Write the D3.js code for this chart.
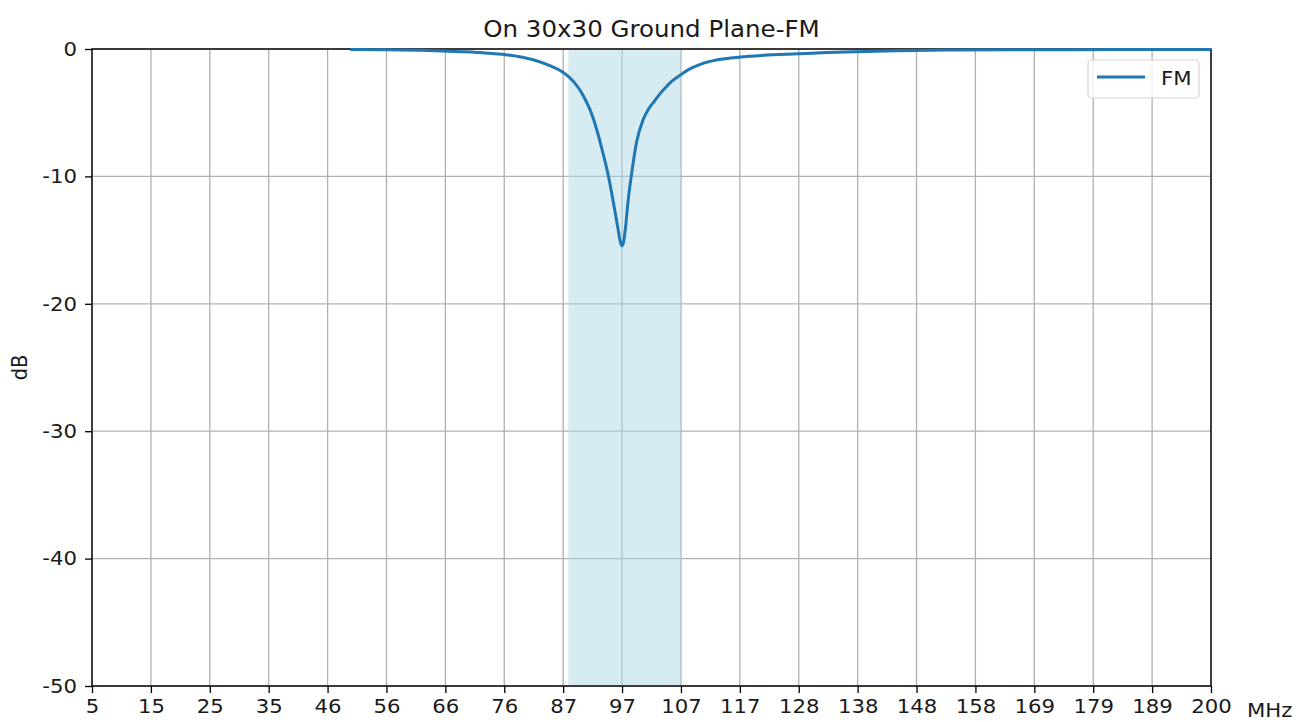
<!DOCTYPE html>
<html>
<head>
<meta charset="utf-8">
<script src="https://cdn.jsdelivr.net/npm/d3@7"></script>
<style>
  html, body { margin: 0; padding: 0; background: #fff; }
  svg { display: block; }
  text { font-family: "DejaVu Sans", sans-serif; fill: #1a1a1a; }
</style>
</head>
<body>
<svg id="chart" width="1307" height="722"></svg>
<script>
// ---- data ----
const title = "On 30x30 Ground Plane-FM";
const seriesName = "FM";
const freqMHz = [50, 56, 62, 66, 70, 74, 77, 80, 83, 85, 87, 88, 89, 90, 91, 92, 93, 94, 95, 96, 96.7, 97.05, 97.35, 97.65, 98.0, 98.4, 99, 99.9, 101, 102, 103, 104, 105.2, 106, 107.5, 109, 111, 114, 118, 122, 128, 133, 138, 143, 148, 155, 165, 175, 185, 200];
const gainDb  = [-0.03, -0.06, -0.1, -0.15, -0.22, -0.33, -0.45, -0.65, -1.0, -1.35, -1.8, -2.15, -2.6, -3.2, -4.0, -5.0, -6.4, -8.1, -10.0, -12.4, -14.2, -15.1, -15.45, -15.1, -13.9, -12.0, -9.9, -7.3, -5.6, -4.7, -4.1, -3.5, -2.9, -2.55, -2.05, -1.6, -1.2, -0.85, -0.63, -0.5, -0.38, -0.28, -0.22, -0.16, -0.12, -0.08, -0.06, -0.05, -0.04, -0.03];
const xTickValues = [5, 15.263, 25.526, 35.789, 46.053, 56.316, 66.579, 76.842, 87.105, 97.368, 107.632, 117.895, 128.158, 138.421, 148.684, 158.947, 169.211, 179.474, 189.737, 200];
const xTickLabels = ["5","15","25","35","46","56","66","76","87","97","107","117","128","138","148","158","169","179","189","200"];
const yTickValues = [0, -10, -20, -30, -40, -50];
const bandRange = [88, 107.632];
const xDomain = [5, 200];
const yDomain = [-50, 0];

// ---- layout ----
const SX = 1.09; // horizontal glyph stretch of the reference
const svg = d3.select("#chart");
const L = 92, R = 1211, T = 49, B = 686;
const x = d3.scaleLinear().domain(xDomain).range([L, R]);
const y = d3.scaleLinear().domain(yDomain).range([B, T]);

function label(px, py, str, size, anchor, rot) {
  const g = svg.append("g").attr("transform", `translate(${px},${py})` + (rot ? ` rotate(${rot})` : "") + ` scale(${rot ? 1 : SX},${rot ? SX : 1})`);
  g.append("text").attr("x", 0).attr("y", 0).attr("text-anchor", anchor || "start")
    .style("font-size", size + "px").text(str);
  return g;
}

// grid
const grid = svg.append("g");
grid.selectAll("line.vx").data(xTickValues).enter().append("line")
  .attr("x1", d => x(d)).attr("x2", d => x(d)).attr("y1", T).attr("y2", B)
  .attr("stroke", "#b0b0b0").attr("stroke-width", 1.3);
grid.selectAll("line.hy").data(yTickValues).enter().append("line")
  .attr("x1", L).attr("x2", R).attr("y1", d => y(d)).attr("y2", d => y(d))
  .attr("stroke", "#b0b0b0").attr("stroke-width", 1.3);

// band shading
svg.append("rect")
  .attr("x", x(bandRange[0])).attr("y", T)
  .attr("width", x(bandRange[1]) - x(bandRange[0])).attr("height", B - T)
  .attr("fill", "#add8e6").attr("fill-opacity", 0.5);

// axes
const xAxis = d3.axisBottom(x).tickValues(xTickValues)
  .tickFormat((d, i) => xTickLabels[i]).tickSize(7).tickPadding(6).tickSizeOuter(0);
const gx = svg.append("g").attr("transform", `translate(0,${B})`).call(xAxis);
const yAxis = d3.axisLeft(y).tickValues(yTickValues)
  .tickFormat(d => String(d)).tickSize(7).tickPadding(7).tickSizeOuter(0);
const gy = svg.append("g").attr("transform", `translate(${L},0)`).call(yAxis);
[gx, gy].forEach(g => {
  g.select(".domain").remove();
  g.selectAll(".tick line").attr("stroke", "#000").attr("stroke-width", 1.3);
  g.selectAll(".tick text").style("font-family", "DejaVu Sans").style("font-size", "19.5px")
    .attr("fill", "#1a1a1a").attr("transform", `scale(${SX},1)`);
});
gy.selectAll(".tick text").attr("x", -15 / SX);

// frame
svg.append("rect").attr("x", L).attr("y", T).attr("width", R - L).attr("height", B - T)
  .attr("fill", "none").attr("stroke", "#000").attr("stroke-width", 1.4);

// curve
const line = d3.line().x((d, i) => x(freqMHz[i])).y(d => y(d)).curve(d3.curveMonotoneX);
svg.append("path").datum(gainDb)
  .attr("d", line).attr("fill", "none")
  .attr("stroke", "#1f77b4").attr("stroke-width", 3).attr("stroke-linejoin", "round");

// title
label((L + R) / 2, 37, title, 22.5, "middle");

// axis labels
label(1247, 717, "MHz", 19.5, "start");
label(27, (T + B) / 2, "dB", 19.5, "middle", -90);

// legend
const lg = svg.append("g");
lg.append("rect").attr("x", 1088).attr("y", 60).attr("width", 111).attr("height", 38)
  .attr("rx", 4).attr("fill", "#fff").attr("fill-opacity", 0.8)
  .attr("stroke", "#d5d5d5").attr("stroke-width", 1.2);
lg.append("line").attr("x1", 1097).attr("x2", 1145).attr("y1", 77).attr("y2", 77)
  .attr("stroke", "#1f77b4").attr("stroke-width", 3);
label(1161, 85, seriesName, 19.5, "start");
</script>
</body>
</html>
